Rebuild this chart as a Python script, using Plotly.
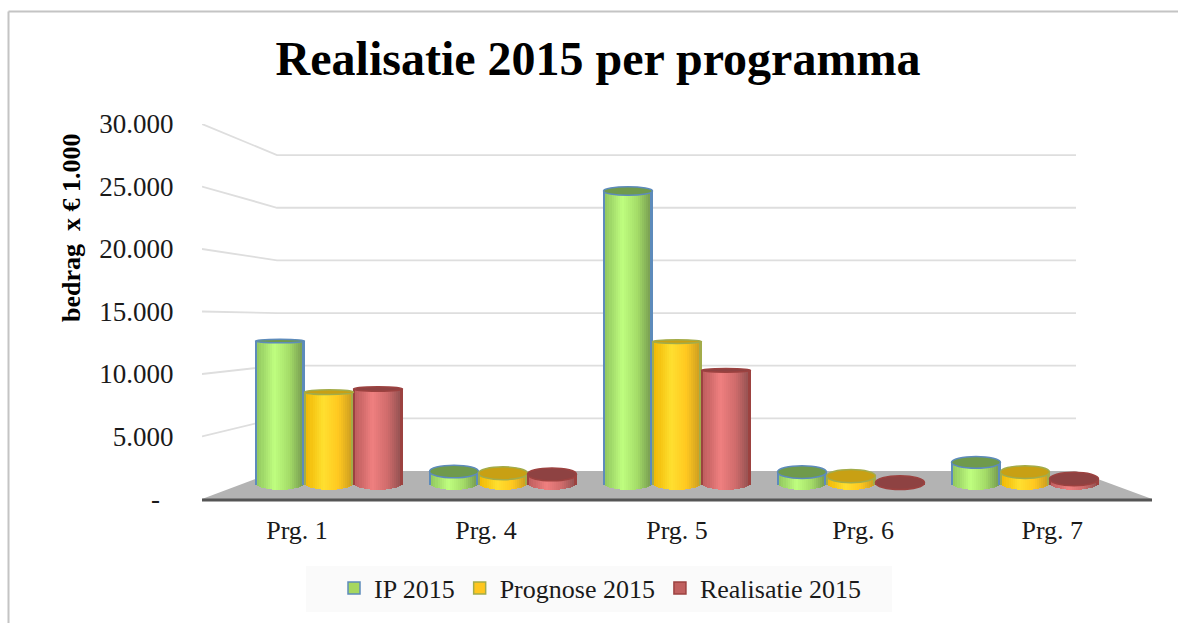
import numpy as np
import plotly.graph_objects as go

categories = ["Prg. 1", "Prg. 4", "Prg. 5", "Prg. 6", "Prg. 7"]
category_label_positions = [0, 0.995, 2, 2.98, 3.975]
series_names = ["IP 2015", "Prognose 2015", "Realisatie 2015"]
ip_2015 = [12350, 1000, 25400, 950, 1800]
prognose_2015 = [7900, 850, 12300, 600, 950]
realisatie_2015 = [8170, 750, 9800, 30, 350]
tick_values = [0, 5000, 10000, 15000, 20000, 25000, 30000]
tick_labels = ["-\u00a0\u00a0", "5.000", "10.000", "15.000", "20.000", "25.000", "30.000"]

W, H = 1178, 623
FRONT_L, FRONT_R, FRONT_B, FRONT_T = 202, 1152, 499, 124
BACK_L, BACK_R, BACK_B = 277, 1076, 471
FRONT_PX, BACK_PX, MID_PX = 12.5 / 1000, 10.53 / 1000, 11.5 / 1000
MID_B = 483
SPACING = 174
BAR_W = 49 / SPACING
FONT = "Liberation Serif"

# colour stops across a cylinder
styles = [
    dict(edge="#5d8bbb", stops=["#8cc05c", "#c0ff80", "#a4dc68", "#73964f"], cap="#6f9a4c", legend="#a6d75f"),
    dict(edge="#a3ac4a", stops=["#f0b400", "#ffe030", "#ffc820", "#c89a20"], cap="#c8a014", legend="#ffc61e"),
    dict(edge="#9c4240", stops=["#b85a5a", "#f08080", "#d06c6c", "#8e5050"], cap="#8e4242", legend="#c0605f"),
]


def hex_rgb(c):
    return np.array([int(c[i:i + 2], 16) for i in (1, 3, 5)], float)


def strip_colour(style, t):
    pos = [0.0, 0.38, 0.7, 1.0]
    rgb = [np.interp(t, pos, [hex_rgb(s)[k] for s in style["stops"]]) for k in range(3)]
    return "rgb(%d,%d,%d)" % tuple(rgb)


def cap_height(v):
    d = v - 12000
    return max(320, 0.055 * d if d > 0 else -0.1 * d)


BASE_CAP = cap_height(0)
N = 24

fig = go.Figure()


def back_x(frac):
    return -0.5 + ((BACK_L + frac * (BACK_R - BACK_L)) - FRONT_L) / (FRONT_R - FRONT_L) * 5


def back_y(v):
    return (FRONT_B - (BACK_B - v * BACK_PX)) / FRONT_PX


fig.add_trace(go.Scatter(x=[-0.5, 4.5, back_x(1), back_x(0), -0.5], y=[0, 0, back_y(0), back_y(0), 0],
                         mode="lines", fill="toself", fillcolor="#b3b3b3", line=dict(width=0),
                         showlegend=False, hoverinfo="skip"))
for v in tick_values[1:]:
    fig.add_trace(go.Scatter(x=[-0.5, back_x(0), back_x(1)], y=[v, back_y(v), back_y(v)], mode="lines",
                             line=dict(color="#dedede", width=1.8), showlegend=False, hoverinfo="skip"))

shapes = []
all_series = [ip_2015, prognose_2015, realisatie_2015]
for s, (name, values, style) in enumerate(zip(series_names, all_series, styles)):
    offset = (s - 1) * BAR_W
    xs, ys, bases, cols, widths = [], [], [], [], []
    for i, v in enumerate(values):
        sw = BAR_W / N
        for k in range(N):
            t = (k + 0.5) / N
            u = 2 * t - 1
            lower = -BASE_CAP / 2 * np.sqrt(1 - u * u)
            xs.append(i + offset - BAR_W / 2 + t * BAR_W)
            bases.append(lower)
            ys.append(v - lower)
            edge = k == 0 or k == N - 1
            cols.append(style["edge"] if edge else strip_colour(style, t))
            widths.append(sw * 1.15)
        shapes.append(dict(type="circle", layer="below", xref="x2", yref="y2",
                           x0=i + offset - BAR_W / 2, x1=i + offset + BAR_W / 2,
                           y0=-BASE_CAP / 2, y1=BASE_CAP / 2, fillcolor=style["edge"],
                           line=dict(color=style["edge"], width=1.5)))
    fig.add_trace(go.Bar(x=xs, y=ys, base=bases, width=widths, marker=dict(color=cols, line=dict(width=0)),
                         xaxis="x2", yaxis="y2", showlegend=False, hoverinfo="skip"))
    for i, v in enumerate(values):
        c = cap_height(v)
        shapes.append(dict(type="circle", layer="above", xref="x2", yref="y2",
                           x0=i + offset - BAR_W / 2, x1=i + offset + BAR_W / 2,
                           y0=v - c / 2, y1=v + c / 2, fillcolor=style["cap"],
                           line=dict(color=style["edge"], width=1.5)))

for name, style in zip(series_names, styles):
    fig.add_trace(go.Bar(x=[None], y=[None], name=name, xaxis="x2", yaxis="y2",
                         marker=dict(color=style["legend"], line=dict(color=style["edge"], width=1.5))))

# front edge of the floor
shapes.append(dict(type="line", xref="x", yref="paper", x0=-0.5, x1=4.5, y0=1 - 500 / H, y1=1 - 500 / H,
                   line=dict(color="#555555", width=3), layer="above"))
shapes.append(dict(type="line", xref="paper", yref="paper", x0=8.5 / W, x1=1, y0=1 - 11.5 / H, y1=1 - 11.5 / H,
                   line=dict(color="#c4c4c4", width=2), layer="below"))
shapes.append(dict(type="line", xref="paper", yref="paper", x0=8.5 / W, x1=8.5 / W, y0=0, y1=1 - 11.5 / H,
                   line=dict(color="#c4c4c4", width=2), layer="below"))
shapes.append(dict(type="rect", xref="paper", yref="paper", x0=306 / W, x1=892 / W, y0=1 - 612 / H, y1=1 - 566 / H,
                   fillcolor="#fafafa", line=dict(width=0), layer="below"))

dom_x = [FRONT_L / W, FRONT_R / W]
dom_y = [1 - FRONT_B / H, 1 - FRONT_T / H]
mid_half = (FRONT_R - FRONT_L) / 2 / SPACING

fig.update_layout(
    width=W, height=H, autosize=False, margin=dict(l=0, r=0, t=0, b=0, autoexpand=False),
    paper_bgcolor="white", plot_bgcolor="rgba(0,0,0,0)",
    barmode="overlay", bargap=0,
    font=dict(family=FONT, color="#1a1a1a"),
    title=dict(text="<b>Realisatie 2015 per programma</b>", x=598 / W, xanchor="center", y=1 - 58.5 / H, yanchor="middle",
               font=dict(family=FONT, size=48, color="#000000"), automargin=False),
    xaxis=dict(domain=dom_x, range=[-0.5, 4.5], tickvals=category_label_positions, ticktext=categories, showgrid=False,
               zeroline=False, showline=False, ticks="outside", ticklen=8, tickcolor="rgba(0,0,0,0)",
               tickfont=dict(size=26, family=FONT), automargin=False),
    xaxis2=dict(domain=dom_x, range=[2 - mid_half, 2 + mid_half], overlaying="x", visible=False),
    yaxis=dict(domain=dom_y, range=[0, 30000], tickvals=tick_values, ticktext=tick_labels, showgrid=False,
               zeroline=False, showline=False, ticks="outside", ticklen=22, tickcolor="rgba(0,0,0,0)",
               tickfont=dict(size=27, family=FONT), automargin=False),
    yaxis2=dict(domain=dom_y, overlaying="y", visible=False,
                range=[(MID_B - FRONT_B) / MID_PX, (MID_B - FRONT_T) / MID_PX]),
    legend=dict(orientation="h", x=600 / W, xanchor="center", y=1 - 588 / H, yanchor="middle",
                bgcolor="rgba(0,0,0,0)", font=dict(size=26, family=FONT), itemwidth=30, traceorder="normal"),
    annotations=[dict(text="<b>bedrag  x € 1.000</b>", textangle=-90, xref="paper", yref="paper",
                      x=72 / W, y=1 - 228 / H, xanchor="center", yanchor="middle", showarrow=False,
                      font=dict(size=26, family=FONT, color="#000000"))],
    shapes=shapes,
)

fig.write_html("out.html", config={"displayModeBar": False},
               post_script="document.body.style.margin='0';document.body.style.overflow='hidden';")
